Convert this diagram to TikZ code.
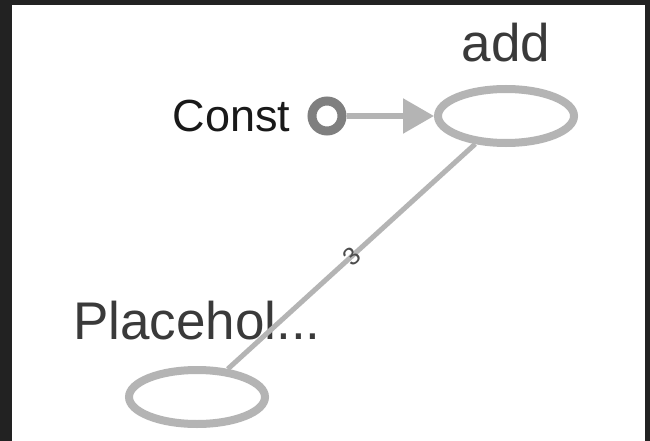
\documentclass[tikz,border=0pt]{standalone}
\usepackage{fontspec}
\setmainfont{Liberation Sans}
\usetikzlibrary{shapes.geometric,arrows.meta,positioning}
\definecolor{edgegray}{HTML}{B4B4B4}
\definecolor{constgray}{HTML}{7F7F7F}
\definecolor{framedark}{HTML}{222222}
\definecolor{textgray}{HTML}{3A3A3A}
\begin{document}
\begin{tikzpicture}[x=1pt,y=-1pt,
    opnode/.style={ellipse,draw=edgegray,line width=8pt,minimum width=136pt,minimum height=54pt,inner sep=0pt},
    big/.style={font=\fontsize{53}{60}\selectfont,text=textgray,inner sep=0pt}]
\fill[framedark](0,0)rectangle(650,441);
\fill[white](12,5)rectangle(645,441);
\useasboundingbox(0,0)rectangle(650,441);
\node[opnode](add)at(506,116){};
\node[opnode](ph)at(197,397){};
\node[circle,draw=constgray,line width=9pt,minimum size=30pt,inner sep=0pt](const)at(327,116){};
\node[big,above=23pt of add](addlbl){add};
\node[big,above=26pt of ph](phlbl){Placehol...};
\node[big,text=black!90,font=\fontsize{45}{54}\selectfont,left=17pt of const](constlbl){Const};
\draw[edgegray,line width=5.5pt,-{Triangle[length=31pt,width=34pt]}](const)--(add);
\draw[edgegray,line width=5pt](ph)--node[sloped,text=black!70,font=\fontsize{25}{30}\selectfont,inner sep=0pt]{3}(add);
\end{tikzpicture}
\end{document}
